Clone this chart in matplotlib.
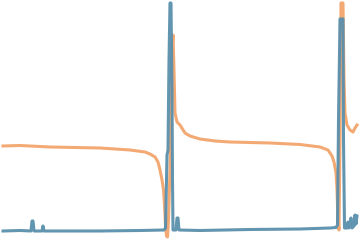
import matplotlib
matplotlib.use("Agg")
import matplotlib.pyplot as plt

# time axis (samples) and signal amplitude
blue_t = [3, 20, 31, 32, 33, 34, 42, 43, 44, 60, 100, 140, 164, 165.5, 166.5,
          167, 168, 169, 170, 171, 172, 172.5, 173, 176, 177, 178, 179, 200,
          250, 300, 330, 336, 337.5, 338.5, 340, 343, 343.5, 344.5, 347, 348,
          349, 351, 352, 354, 355, 356, 357]
blue_v = [9, 9.5, 9, 19, 19, 9, 9, 14, 9, 9, 9, 9.5, 10, 12, 60,
          85, 90, 180, 237, 237, 150, 60, 10, 10, 22, 22, 10, 9.5,
          10.5, 11, 12, 12.5, 15, 120, 221, 221, 100, 12, 12, 18,
          12, 22, 12, 14, 25, 16, 24]

orange_t = [3, 20, 50, 100, 130, 145, 150, 155, 158, 160, 162, 163.5, 164.5,
            165.5, 166.5, 167.5, 168.5, 170, 171, 172, 173, 174, 175, 177,
            180, 185, 190, 200, 215, 230, 270, 300, 320, 328, 332, 334, 336,
            337, 338, 339, 340, 341, 343, 344, 345, 347, 350, 353, 355, 357]
orange_v = [94, 94.5, 93, 92, 90, 88, 86, 83, 78, 70, 60, 50, 35,
            15, 4, 3, 20, 70, 130, 190, 205, 170, 127, 118,
            115, 107, 104, 101, 99, 98, 97, 95.5, 93, 90, 84, 78, 67,
            50, 20, 10, 100, 237, 237, 160, 127, 115, 110, 108, 112, 115]

fig = plt.figure(figsize=(3.6, 2.4), dpi=100)
ax = fig.add_axes([0, 0, 1, 1])
ax.plot(orange_t, orange_v, color='#f3a56c', linewidth=2.2, alpha=0.95)
ax.plot(blue_t, blue_v, color='#5a8fab', linewidth=2.2, alpha=0.95)
ax.set_xlim(0, 360)
ax.set_ylim(0, 240)
ax.axis('off')
fig.savefig('out.png', dpi=100)
